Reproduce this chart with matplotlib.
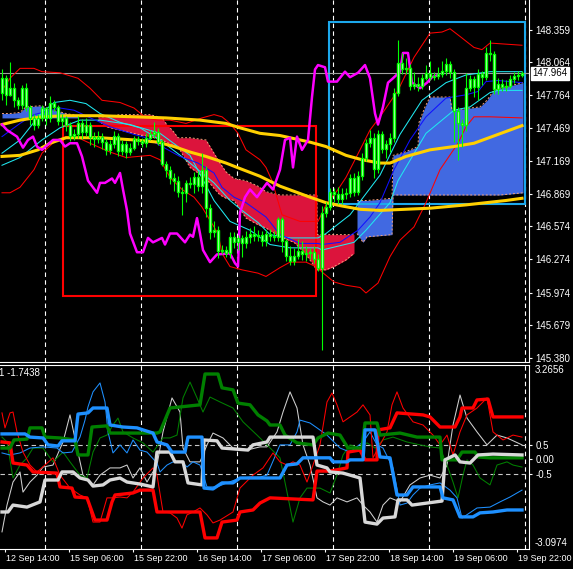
import numpy as np
import matplotlib
matplotlib.use("Agg")
import matplotlib.pyplot as plt
from matplotlib.patches import Rectangle
from matplotlib.transforms import ScaledTranslation, blended_transform_factory

plt.rcParams['font.family'] = ['Liberation Sans', 'DejaVu Sans']

# ---- candles (hourly bars, index 0..130) ----
first_open = 147.79
closes = [147.92, 147.77, 147.83, 147.72, 147.68, 147.83, 147.66, 147.56, 147.50, 147.56,
          147.65, 147.56, 147.70, 147.66, 147.53, 147.56, 147.50, 147.40, 147.41, 147.51,
          147.43, 147.50, 147.39, 147.37, 147.39, 147.34, 147.27, 147.32, 147.40, 147.26,
          147.32, 147.25, 147.29, 147.37, 147.35, 147.33, 147.38, 147.41, 147.43, 147.34,
          147.14, 147.09, 147.01, 146.99, 146.89, 146.88, 146.97, 146.96, 147.02, 146.94,
          147.09, 146.74, 146.52, 146.54, 146.35, 146.36, 146.33, 146.48, 146.43, 146.47,
          146.42, 146.48, 146.51, 146.49, 146.50, 146.44, 146.51, 146.49, 146.48, 146.64,
          146.44, 146.31, 146.26, 146.31, 146.35, 146.32, 146.33, 146.34, 146.28, 146.20,
          146.70, 146.75, 146.89, 146.87, 146.82, 146.87, 146.88, 147.01, 146.89, 147.03,
          147.20, 147.33, 147.38, 147.10, 147.41, 147.28, 147.32, 147.38, 147.79, 148.06,
          148.00, 148.01, 147.85, 147.87, 147.85, 147.92, 147.97, 147.93, 147.94, 147.96,
          147.99, 148.05, 147.98, 147.62, 147.51, 147.50, 147.83, 147.91, 147.84, 147.96,
          147.93, 148.15, 148.14, 147.82, 147.87, 147.84, 147.85, 147.91, 147.94, 147.95,
          147.964]
highs = [148.00, 147.95, 148.07, 147.88, 147.75, 147.86, 147.88, 147.68, 147.60, 147.60,
         147.68, 147.66, 147.76, 147.72, 147.68, 147.60, 147.58, 147.52, 147.46, 147.58,
         147.55, 147.56, 147.52, 147.43, 147.44, 147.42, 147.37, 147.36, 147.44, 147.42,
         147.36, 147.35, 147.33, 147.40, 147.40, 147.38, 147.42, 147.45, 147.52, 147.47,
         147.37, 147.17, 147.12, 147.06, 147.03, 146.93, 147.00, 147.02, 147.07, 147.08,
         147.24, 147.12, 146.78, 146.62, 146.58, 146.41, 146.40, 146.52, 146.52, 146.50,
         146.50, 146.53, 146.56, 146.58, 146.54, 146.53, 146.54, 146.55, 146.53, 146.66,
         146.66, 146.46, 146.40, 146.38, 146.46, 146.44, 146.40, 146.38, 146.40, 146.32,
         146.76, 146.80, 146.92, 146.92, 146.93, 146.92, 146.92, 147.05, 147.06, 147.08,
         147.24, 147.37, 147.45, 147.42, 147.45, 147.44, 147.36, 147.42, 147.83, 148.27,
         148.15, 148.10, 148.05, 147.98, 147.93, 147.96, 148.04, 148.08, 147.98, 148.02,
         148.08, 148.10, 148.08, 148.00, 147.66, 147.55, 147.97, 147.95, 147.94, 148.00,
         147.99, 148.20, 148.27, 148.17, 147.92, 147.91, 147.90, 147.95, 147.98, 147.99,
         147.99]
lows = [147.72, 147.68, 147.76, 147.66, 147.64, 147.64, 147.62, 147.50, 147.45, 147.47,
        147.53, 147.50, 147.52, 147.62, 147.50, 147.48, 147.44, 147.35, 147.36, 147.38,
        147.37, 147.40, 147.31, 147.30, 147.33, 147.28, 147.22, 147.23, 147.29, 147.21,
        147.22, 147.20, 147.22, 147.27, 147.31, 147.30, 147.30, 147.36, 147.38, 147.31,
        147.12, 147.02, 146.96, 146.90, 146.84, 146.68, 146.80, 146.92, 146.88, 146.90,
        146.88, 146.66, 146.46, 146.48, 146.29, 146.32, 146.30, 146.29, 146.38, 146.36,
        146.30, 146.38, 146.42, 146.44, 146.44, 146.40, 146.40, 146.44, 146.44, 146.44,
        146.34, 146.26, 146.22, 146.22, 146.28, 146.27, 146.26, 146.28, 146.24, 146.17,
        145.45, 146.66, 146.72, 146.80, 146.78, 146.78, 146.82, 146.84, 146.85, 146.86,
        147.00, 147.17, 147.30, 147.01, 147.06, 147.24, 147.20, 147.25, 147.34, 147.76,
        147.96, 147.96, 147.81, 147.82, 147.80, 147.82, 147.90, 147.90, 147.90, 147.91,
        147.93, 147.95, 147.92, 147.34, 147.18, 147.30, 147.44, 147.80, 147.75, 147.72,
        147.86, 147.90, 148.08, 147.78, 147.78, 147.80, 147.80, 147.83, 147.88, 147.90,
        147.93]
last_price = 147.964

# ---- overlay lines on price panel (bar index, price) ----
bb_up_x = [0, 2, 4.5, 8, 10, 14.5, 19, 22, 25, 29.5, 33, 36, 39, 42, 46, 50, 53, 55, 57, 59, 61, 64.5,
           66, 67.5, 70, 74.5, 79, 81, 84, 86, 89.5, 92, 94.5, 99, 103, 107, 110, 112, 114.5, 118,
           120, 122, 130]
bb_up = [147.81, 147.92, 148.01, 148.01, 147.98, 147.97, 147.92, 147.83, 147.72, 147.70,
         147.65, 147.56, 147.54, 147.54, 147.51, 147.56, 147.59, 147.57, 147.51, 147.42,
         147.27, 147.18, 147.11, 146.99, 146.68, 146.62, 146.62, 146.77, 146.91, 147.02,
         147.27, 147.45, 147.57, 147.81, 148.11, 148.33, 148.34, 148.37, 148.30, 148.20,
         148.18, 148.24, 148.22]
bb_lo_x = [0, 2, 4.5, 8, 10, 13, 16, 19, 22, 27, 31, 37, 39.5, 42, 45, 48, 50, 54, 55, 57, 60, 64,
           66, 69.5, 72, 76, 79, 80, 83, 86, 89.5, 91, 94, 97, 99.5, 103, 106, 109.5, 114, 116,
           118, 122, 130]
bb_lo = [146.88, 146.88, 146.93, 147.09, 147.24, 147.34, 147.39, 147.38, 147.33, 147.25,
         147.20, 147.22, 147.18, 147.02, 146.91, 146.84, 146.75, 146.51, 146.33, 146.21,
         146.18, 146.15, 146.12, 146.20, 146.25, 146.25, 146.20, 146.16, 146.07, 146.04,
         146.02, 145.97, 146.06, 146.30, 146.45, 146.57, 146.79, 147.09, 147.33, 147.48,
         147.57, 147.57, 147.56]
cyan_a_x = [0, 4.5, 9.5, 13, 17, 21, 24.5, 29.5, 34.5, 39.5, 46, 53, 57, 60, 64, 67, 72, 79, 81,
            87, 94.5, 99.5, 105, 111, 116, 122, 130]
cyan_a = [147.24, 147.36, 147.59, 147.70, 147.72, 147.69, 147.60, 147.52, 147.47, 147.36,
          147.18, 146.97, 146.81, 146.72, 146.61, 146.50, 146.47, 146.47, 146.51, 146.68,
          147.04, 147.41, 147.72, 147.88, 147.95, 147.98, 147.98]
cyan_b_x = [0, 4.5, 10, 14.5, 19.5, 24.5, 32, 39.5, 47, 53, 57, 62, 67, 72, 79, 80, 88, 91, 97,
            99, 106, 113, 117, 122, 124, 130]
cyan_b = [147.13, 147.20, 147.36, 147.47, 147.54, 147.54, 147.50, 147.42, 147.22, 146.81,
          146.62, 146.54, 146.41, 146.38, 146.38, 146.36, 146.43, 146.54, 146.79, 146.99,
          147.42, 147.63, 147.66, 147.79, 147.81, 147.81]
blue_x = [0, 4.5, 8, 14.5, 18, 21.5, 27, 33, 36, 40, 44.5, 49, 53, 55, 58, 61, 66, 69.5, 74.5, 79,
          80, 84.5, 89, 92, 94.5, 98, 102, 106, 111, 116, 119, 121, 124, 130]
blue = [147.39, 147.51, 147.59, 147.65, 147.63, 147.57, 147.48, 147.41, 147.38, 147.30,
        147.21, 147.15, 147.06, 146.93, 146.84, 146.79, 146.66, 146.50, 146.42, 146.42,
        146.41, 146.43, 146.54, 146.66, 146.79, 147.09, 147.36, 147.57, 147.74, 147.77,
        147.80, 147.89, 147.90, 147.88]
ma_a_x = [0, 4.5, 10, 16, 24.5, 33, 41, 49.5, 56, 59.5, 64.5, 69.5, 77, 81, 86, 90, 94.5, 97, 101,
          107, 113, 118, 124, 130]
ma_a = [147.50, 147.54, 147.57, 147.58, 147.58, 147.57, 147.56, 147.54, 147.51, 147.47,
        147.42, 147.40, 147.34, 147.30, 147.22, 147.18, 147.15, 147.15, 147.21, 147.27,
        147.30, 147.33, 147.41, 147.49]
ma_b_x = [0, 4.5, 9, 12, 16, 24.5, 33, 39, 43, 47, 51, 56, 59.5, 64.5, 69.5, 77, 81, 85, 89.5,
          94.5, 107, 116, 121, 126, 130]
ma_b = [147.21, 147.22, 147.27, 147.33, 147.38, 147.38, 147.36, 147.34, 147.30, 147.25,
        147.21, 147.15, 147.10, 147.03, 146.94, 146.84, 146.79, 146.76, 146.73, 146.72,
        146.74, 146.77, 146.79, 146.81, 146.83]
mag_x = [0, 1.25, 3.75, 5.25, 6.5, 7.75, 8.75, 10, 11.25, 12.75, 14.5, 15.75, 17, 18.75, 20, 21.5,
         23.75, 24.5, 25.75, 27.5, 28.25, 29.5, 30.25, 31.25, 32, 33.75, 35.25, 36.5, 37.75, 40,
         40.75, 42, 43.75, 45.75, 47, 47.75, 48.75, 49.5, 50.25, 52, 53.75, 57, 58.25, 59, 59.5,
         60.75, 62, 63.75, 65.25, 66.25, 67.75, 69.5, 70.75, 72, 72.75, 73.75, 75, 76.5, 77.5,
         78.25, 79, 80.75, 81.5, 83.75, 85.75, 87, 89, 90.75, 92, 93.25, 94, 95.25, 96.5, 97.75,
         99.5, 100.25, 101.5, 102.5, 104.5, 106.25, 107.5, 109]
mag = [147.50, 147.45, 147.39, 147.29, 147.36, 147.39, 147.30, 147.27, 147.31, 147.36,
       147.36, 147.30, 147.33, 147.33, 147.21, 146.99, 146.88, 146.97, 146.97, 147.01,
       146.97, 147.06, 146.91, 146.72, 146.51, 146.34, 146.34, 146.47, 146.43, 146.47,
       146.41, 146.51, 146.51, 146.43, 146.50, 146.48, 146.65, 146.51, 146.36, 146.25,
       146.32, 146.33, 146.24, 146.21, 146.70, 146.84, 146.91, 146.84, 146.92, 146.97,
       146.91, 147.09, 147.36, 147.38, 147.11, 147.39, 147.27, 147.36, 147.75, 148.00,
       148.04, 148.02, 147.89, 147.89, 147.98, 147.93, 147.97, 148.04, 147.92, 147.60,
       147.50, 147.66, 147.88, 147.92, 147.98, 148.15, 148.15, 147.88, 147.83, 147.88,
       147.93, 147.95]

# clouds
red_x = [24, 26, 29.5, 34, 37, 40, 41, 43, 44, 47, 51, 53, 54.5, 56, 58, 61, 64, 66, 69.5, 73,
         76, 78.7, 78.8, 81, 83, 86, 88]
red_top = [147.57, 147.57, 147.59, 147.59, 147.59, 147.56, 147.51, 147.43, 147.38, 147.38,
           147.36, 147.24, 147.15, 147.07, 147.01, 146.99, 146.94, 146.89, 146.86, 146.86,
           146.86, 146.86, 146.50, 146.50, 146.50, 146.50, 146.50]
red_bot = [147.54, 147.48, 147.45, 147.41, 147.39, 147.36, 147.34, 147.31, 147.30, 147.11,
           147.01, 146.92, 146.86, 146.83, 146.81, 146.65, 146.59, 146.56, 146.48, 146.43,
           146.32, 146.18, 146.18, 146.18, 146.21, 146.27, 146.33]
bl_left_x = [0, 2, 4.5, 6, 9.5, 13, 16, 19]
bl_left_top = [147.60, 147.60, 147.61, 147.66, 147.67, 147.63, 147.60, 147.58]
bl_left_bot = [147.56, 147.56, 147.56, 147.56, 147.56, 147.56, 147.56, 147.56]
bl_x = [88.75, 90.25, 91.25, 97.5, 97.75, 100.75, 104, 104.25, 105.75, 107, 112, 112.5, 119.5,
        121.25, 122.75, 124.5, 130.25]
bl_top = [146.81, 146.81, 146.81, 146.83, 147.22, 147.25, 147.30, 147.52, 147.66, 147.75,
          147.75, 147.63, 147.66, 147.72, 147.80, 147.83, 147.88]
bl_bot = [146.51, 146.43, 146.48, 146.50, 146.86, 146.86, 146.86, 146.86, 146.86, 146.86,
          146.86, 146.86, 146.86, 146.86, 146.86, 146.86, 146.88]

# drawn rectangles: (x0, x1, price low, price high)
red_box = (15.25, 78.5, 145.94, 147.49)
cyan_box = (81.75, 130.75, 146.78, 148.43)

price_ticks = [148.359, 148.064, 147.764, 147.469, 147.169, 146.869, 146.574, 146.274,
               145.974, 145.679, 145.380]
day_lines = [10.75, 34.75, 58.75, 82.75, 106.75, 130.75]
time_ticks = [0.75, 16.75, 32.75, 48.75, 64.75, 80.75, 96.75, 112.75, 128.75]
time_labels = ['12 Sep 14:00', '15 Sep 06:00', '15 Sep 22:00', '16 Sep 14:00', '17 Sep 06:00',
               '17 Sep 22:00', '18 Sep 14:00', '19 Sep 06:00', '19 Sep 22:00']

# ---- oscillator panel ----
osc_max, osc_min = 3.2656, -3.0974
thick_blue_x = [0, 5.75, 7, 10.25, 11.5, 14, 15, 18.25, 19, 21.5, 22.75, 26.25, 27, 30.25, 33.75,
                35.25, 37.75, 38.75, 41.25, 42.5, 45.75, 46.5, 50, 50.5, 52.75, 55, 57.75, 59.5,
                69.5, 71.25, 73.75, 75.25, 82, 82.75, 86.25, 87, 90.25, 90.75, 93.25, 94.5, 97,
                98.75, 101.25, 102.75, 109.5, 110.25, 112.75, 114.5, 117.75, 119.5, 122.75,
                126.25, 130]
thick_blue = [0.88, 0.88, 0.77, 0.74, 0.50, 0.46, 0.64, 0.64, 1.57, 1.61, 1.78, 1.78, 1.19,
              1.12, 1.09, 1.02, 0.91, 0.60, 0.50, 0.25, 0.25, 0.77, 0.77, -1.00, -1.03, -0.82,
              -0.82, -0.65, -0.65, -0.20, -0.16, 0.05, 0.05, -0.09, -0.09, -0.02, -0.02, 1.02,
              1.02, 0.08, 0.05, -1.24, -1.24, -0.96, -0.96, -1.34, -1.41, -2.00, -2.00, -1.86,
              -1.83, -1.76, -1.76]
thick_green_x = [0, 2, 3, 6.25, 7, 10, 10.75, 14.5, 18.25, 19, 21.5, 22.5, 26.25, 27, 38.75,
                 39.5, 42, 49.5, 50.75, 54, 55, 57.75, 59, 62, 64, 66.25, 67, 69.5, 70.75, 73.75,
                 77.75, 79, 81.5, 84.5, 86.5, 90, 90.75, 93.75, 94.5, 99.5, 103.75, 109.5, 110,
                 113.75, 115, 118.25, 119, 122, 130]
thick_green = [0.39, 0.39, 0.67, 0.70, 1.09, 1.09, 0.77, 0.74, 0.67, 0.15, 0.15, 1.12, 1.16,
               0.91, 0.91, 0.95, 1.78, 1.89, 2.96, 2.96, 2.48, 2.41, 1.95, 1.89, 1.54, 1.33,
               1.19, 1.19, 0.84, 0.57, 0.50, 0.74, 0.91, 0.84, 0.39, 0.39, 1.26, 1.26, 0.84,
               0.91, 0.77, 0.77, -0.02, -0.02, 0.25, 0.25, 0.08, 0.05, 0.05]
thick_red_x = [0, 2, 2.75, 6.25, 7.75, 13.75, 14.5, 17.5, 18.25, 21.25, 23.25, 26.25, 27.5,
               28.25, 32.75, 34.5, 37.75, 38.75, 49.5, 50.75, 53.75, 55, 58.75, 59.5, 62.75,
               64.5, 67, 77.75, 78.75, 82, 86.25, 86.5, 89.5, 90.75, 93.75, 94, 97, 98.75,
               105.25, 107, 109.5, 113.25, 114.5, 115, 117.75, 118.75, 121.5, 122.75, 130]
thick_red = [0.60, 0.57, -0.13, -0.20, -0.44, -0.48, -0.96, -1.00, -1.31, -1.34, -2.11, -2.11,
             -1.48, -1.24, -1.17, -1.07, -1.07, -1.83, -1.83, -2.73, -2.73, -2.18, -2.11, -1.83,
             -1.76, -1.52, -1.34, -1.41, -0.41, -0.41, -0.30, 0.25, 0.32, -0.02, -0.02, 1.02,
             1.09, 1.61, 1.54, 1.47, 1.12, 1.12, 1.47, 1.78, 1.78, 2.06, 2.09, 1.47, 1.47]
thick_white_x = [0, 1.5, 2.75, 6.25, 9.5, 10.75, 14, 15, 17.75, 19.5, 21.5, 22.75, 25.25, 27,
                 29.5, 31.25, 34.5, 37.75, 38.75, 42, 43.25, 45.25, 46.5, 50, 50.5, 53.75, 55,
                 61.5, 62.75, 66.25, 67, 77.75, 78.75, 81.25, 82, 85.25, 89.5, 90.75, 93.75,
                 95.25, 98.25, 99, 101.25, 102.5, 110, 110.75, 113.25, 114.5, 117, 119, 122.75,
                 130]
thick_white = [-1.83, -1.83, -1.59, -1.66, -1.48, -0.72, -0.72, -0.44, -0.44, -0.65, -0.72,
               -0.93, -0.89, -0.72, -0.65, -0.79, -0.86, -0.96, 0.25, 0.25, -0.09, -0.09, -0.82,
               -0.89, 0.67, 0.64, 0.39, 0.32, 0.50, 0.60, 0.77, 0.77, -0.20, -0.30, -0.44,
               -0.48, -0.65, -2.18, -2.25, -2.04, -2.00, -1.41, -1.41, -1.59, -1.45, -0.02,
               0.15, -0.09, -0.13, 0.15, 0.18, 0.15]
thin_blue_x = [0, 2, 4.5, 7, 10.25, 13.75, 15.25, 17.5, 19.5, 20.75, 21.5, 22.75, 24.5, 25.75,
               26.5, 27.75, 29.5, 31.25, 32.75, 34.5, 36.25, 38.75, 39.5, 41.25, 42.75, 45,
               46.25, 47.75, 49.5, 51.25, 53.75, 56.25, 59.5, 62, 64.5, 66.25, 69.5, 72, 73.75,
               74.5, 77, 78.75, 81.25, 84.5, 87, 90.25, 92, 93.75, 95.25, 97.75, 99.5, 101.25,
               102.75, 104.5, 107, 109.5, 112, 113.75, 115, 118.75, 122, 124.5, 127, 130]
thin_blue = [0.22, 0.15, 0.22, 0.39, 0.43, 0.39, 0.22, 0.25, 0.77, 1.36, 1.82, 2.34, 2.65, 1.99,
             0.95, 0.22, 0.50, 0.22, 0.67, 0.32, 0.25, -0.13, -0.44, -0.20, -0.09, -0.09, -0.27,
             -0.09, -0.20, -0.96, -0.96, -0.82, -0.65, -0.62, -0.62, -0.55, 0.50, 0.50, 0.95,
             1.36, 1.26, 1.09, 0.84, 0.39, 0.25, 0.60, 0.95, 0.50, 0.39, -0.30, -1.59, -1.52,
             -1.24, -1.00, -0.89, -0.82, -1.07, -1.34, -2.04, -1.69, -1.66, -1.48, -1.31, -1.07]
thin_green_x = [0, 1.25, 2.75, 4.5, 6.25, 7.75, 10.25, 12.75, 15.25, 17, 19.5, 21.25, 22.75,
                24.5, 26.25, 27.75, 29, 30.25, 32.75, 35.25, 37.75, 40.25, 42, 43.75, 45.25, 47,
                48.75, 50.25, 52, 54.5, 57.75, 60.25, 63.75, 66.25, 69.5, 71.25, 72.75, 74.5,
                76.25, 79.5, 82, 83.75, 85.25, 87, 89.5, 91.25, 93.25, 95.25, 97.75, 101.25,
                104.5, 107, 109.5, 111.25, 112.75, 114, 115.25, 116.25, 117.75, 119.5, 122,
                123.75, 126.25, 127.75, 130]
thin_green = [0.77, 0.60, -0.65, -0.20, 0.05, 0.39, 0.39, -0.09, 0.25, -0.09, -0.55, -0.65,
              0.25, 0.74, 0.84, 1.19, 1.43, 0.95, 0.74, 0.57, 0.25, 0.74, 0.74, 0.84, 2.13, 2.68,
              2.13, 1.64, 2.16, 1.99, 1.78, 1.30, 0.84, 0.50, 0.05, -1.14, -2.18, -1.34, -1.00,
              -1.00, -1.17, -0.55, 0.15, 0.50, 0.39, 0.57, 0.39, 0.67, 0.77, 0.60, 0.50, 0.43,
              0.39, -0.20, -0.79, -1.34, -0.55, -0.02, -0.20, -0.65, -0.89, -0.20, -0.09, -0.20,
              -0.27]
thin_red_x = [0, 0.75, 2, 2.75, 3.75, 5.25, 7, 8.75, 10.75, 12.75, 14.5, 17, 19.5, 21.25, 22.75,
              24.5, 26.25, 27.75, 29.5, 31.25, 32.75, 35.25, 37.75, 38.75, 40.25, 42, 43.75, 45,
              46.25, 47.75, 49.5, 51.25, 52.75, 54.5, 57.75, 59.5, 62.75, 65.25, 67.75, 69.5,
              71.25, 72.75, 74.5, 76.25, 77.75, 79.5, 81.25, 82.5, 83.75, 85.25, 87, 88.75,
              90.25, 92, 92.75, 94.5, 96.25, 97.5, 98.75, 100.25, 102.75, 105.25, 107.75, 109.5,
              111.25, 112.75, 114.5, 116.25, 118.75, 121.25, 122.75, 125.25, 127.75, 130]
thin_red = [1.61, 1.09, 1.61, 1.64, 0.95, 0.25, -0.20, -0.44, -0.20, 0.05, -0.55, -1.00, -1.24,
            -1.34, -2.18, -2.18, -1.34, -1.34, -1.31, -1.34, -1.14, -0.65, -0.30, -0.55, -1.83,
            -1.86, -2.04, -2.39, -1.93, -1.83, -1.69, -1.93, -2.21, -2.11, -1.83, -1.00, -0.55,
            -0.30, 0.22, -0.09, -0.20, -0.09, -0.20, -0.79, -0.20, 0.50, 1.99, 2.30, 1.89, 1.30,
            1.47, 1.64, 1.89, 1.54, 0.05, 0.50, 0.95, 1.89, 2.34, 1.78, 1.30, 1.19, 0.84, 0.50,
            0.84, 0.15, 0.95, 1.54, 1.78, 2.13, 0.95, 0.67, 0.84, 0.77]
thin_white_x = [0, 1.25, 2.75, 4.5, 5.25, 7, 8.75, 10.25, 12.75, 15.25, 17, 18.75, 20.25, 22.75,
                24.5, 27, 29.5, 31.25, 32.75, 34.5, 36.25, 38.75, 40.25, 42.5, 44.5, 45.25, 47,
                49.5, 51.25, 52.75, 55.25, 57.75, 61.25, 64.5, 66.25, 68.75, 70.25, 72, 73.75,
                75.25, 77, 78.75, 80.25, 82, 83.75, 86.25, 88.75, 90.25, 92, 93.75, 95.25, 97,
                99.5, 102, 104.5, 107, 109.5, 111.25, 112.75, 114.5, 116.25, 118.75, 121.25,
                123.75, 126.25, 130]
thin_white = [-2.52, -1.59, -0.79, -0.44, -1.14, -0.79, -0.55, -0.27, -0.20, 0.60, 1.54, 0.39,
              -0.55, -0.89, -0.55, -0.30, -0.30, -0.20, -0.65, -0.30, -0.79, -0.20, 0.95, 2.13,
              1.64, 0.39, -0.09, -0.09, 0.50, 0.91, 0.74, 0.39, 0.32, 0.43, 0.43, 0.95, 1.64,
              2.34, 1.78, 0.50, -0.20, -1.34, -1.48, -1.59, -1.34, -1.48, -1.34, -1.59, -1.83,
              -2.18, -1.59, -1.34, -1.48, -0.89, -0.65, -0.55, -0.65, -0.20, 1.19, 2.23, 1.43,
              0.95, 0.50, 0.84, 0.74, 0.50]

# ---- figure layout (pixel based, 573 x 569) ----
W, H = 573, 569
fig = plt.figure(figsize=(W / 100, H / 100), dpi=100, facecolor='black')
ax = fig.add_axes([0, (H - 362) / H, 529 / W, 362 / H])
ax2 = fig.add_axes([0, (H - 548.5) / H, 529 / W, 183.3 / H])

for a in (ax, ax2):
    a.set_facecolor('black')
    a.set_xlim(-0.5, 131.75)
    a.spines['left'].set_visible(False)
    for s in ('right', 'bottom', 'top'):
        a.spines[s].set_color('white')
        a.spines[s].set_linewidth(0.8)
    for d in day_lines:
        a.axvline(d, color='white', lw=0.8, ls=(0, (4, 3)), zorder=0.5)
ax.spines['top'].set_visible(False)
ax.set_ylim(145.343, 148.631)
ax2.set_ylim(osc_min, osc_max)

WHITE = 'white'
FS = 7

# clouds
ax.fill_between(bl_left_x, bl_left_bot, bl_left_top, color='#4169e1', lw=0, zorder=1)
ax.fill_between(red_x, red_bot, red_top, color='#dc143c', lw=0, zorder=1)
ax.fill_between(bl_x, bl_bot, bl_top, color='#4169e1', lw=0, zorder=1)
for xs, ys in ((red_x, red_top), (red_x, red_bot), (bl_x, bl_top), (bl_x, bl_bot),
               (bl_left_x, bl_left_top)):
    ax.plot(xs, ys, color='#f4a07a', lw=0.7, ls=(0, (2, 2)), zorder=1.2)

# rectangles
for (x0, x1, y0, y1), c in ((red_box, '#ff0000'), (cyan_box, '#1ca8ec')):
    ax.add_patch(Rectangle((x0, y0), x1 - x0, y1 - y0, fill=False, edgecolor=c, lw=1.5, zorder=2))

# indicator lines
ax.plot(bb_up_x, bb_up, color='#ff0000', lw=0.75, zorder=3)
ax.plot(bb_lo_x, bb_lo, color='#ff0000', lw=0.75, zorder=3)
ax.plot(cyan_a_x, cyan_a, color='#20e8f0', lw=0.75, zorder=3)
ax.plot(cyan_b_x, cyan_b, color='#20e8f0', lw=0.75, zorder=3)
ax.plot(blue_x, blue, color='#1010ff', lw=0.75, zorder=3)
ax.plot(ma_a_x, ma_a, color='#ffd000', lw=2.2, zorder=3.5)
ax.plot(ma_b_x, ma_b, color='#ffd000', lw=2.2, zorder=3.5)
ax.plot(mag_x, mag, color='#ff00ff', lw=1.8, zorder=4)
ax.axhline(last_price, color='#a0a0a0', lw=0.8, zorder=2.5)

# candles
closes_a = np.array(closes)
opens_a = np.r_[first_open, closes_a[:-1]]
idx = np.arange(len(closes_a))
ax.vlines(idx, lows, highs, color='#00ff00', lw=0.8, zorder=6)
ax.bar(idx, np.abs(closes_a - opens_a), bottom=np.minimum(opens_a, closes_a), width=0.5,
       color='#f0fff0', edgecolor='#00ff00', linewidth=1.0, zorder=7)

# price scale
ax.yaxis.tick_right()
ax.set_xticks([])
ax.set_yticks(price_ticks)
ax.set_yticklabels([f'{p:.3f}' for p in price_ticks])
ax.tick_params(axis='y', colors=WHITE, labelsize=FS, length=2.5, width=0.8, pad=2)
tr = blended_transform_factory(ax.transAxes, ax.transData)
ax.text(1.006, last_price, f'{last_price:.3f}', transform=tr, ha='left', va='center',
        fontsize=FS, color='black', clip_on=False, zorder=10,
        bbox=dict(facecolor='white', edgecolor='white', pad=1.2))

# oscillator
for lvl in (0.5, -0.5):
    ax2.axhline(lvl, color='#c8c8c8', lw=0.8, ls=(0, (4, 3)), zorder=0.5)
ax2.plot(thin_white_x, thin_white, color='#d0d0d0', lw=0.75, zorder=2)
ax2.plot(thin_green_x, thin_green, color='#008000', lw=0.75, zorder=2)
ax2.plot(thin_blue_x, thin_blue, color='#1e90ff', lw=0.75, zorder=2)
ax2.plot(thin_red_x, thin_red, color='#ff0000', lw=0.75, zorder=2)
ax2.plot(thick_red_x, thick_red, color='#ff0000', lw=2.4, zorder=3)
ax2.plot(thick_green_x, thick_green, color='#008000', lw=2.4, zorder=3)
ax2.plot(thick_white_x, thick_white, color='#d8d8d8', lw=2.4, zorder=3)
ax2.plot(thick_blue_x, thick_blue, color='#1e90ff', lw=2.4, zorder=3)

ax2.yaxis.tick_right()
ax2.set_yticks([0.5, 0.0, -0.5])
ax2.set_yticklabels(['0.5', '0.00', '-0.5'])
ax2.tick_params(axis='y', colors=WHITE, labelsize=FS, length=2.5, width=0.8, pad=2)
tr2 = blended_transform_factory(ax2.transAxes, ax2.transData)
ax2.text(1.011, osc_max, f'{osc_max:.4f}', transform=tr2, ha='left', va='top',
         fontsize=FS, color=WHITE, clip_on=False)
ax2.text(1.011, osc_min, f'{osc_min:.4f}', transform=tr2, ha='left', va='bottom',
         fontsize=FS, color=WHITE, clip_on=False)
ax2.text(-0.002, 0.955, '1 -1.7438', transform=ax2.transAxes, ha='left', va='center',
         fontsize=FS, color=WHITE)

ax2.set_xticks(time_ticks)
ax2.set_xticklabels(time_labels)
ax2.tick_params(axis='x', colors=WHITE, labelsize=6.5, length=2.5, width=0.8, pad=1.5)
shift = ScaledTranslation(1.5 / 100, 0, fig.dpi_scale_trans)
for lbl in ax2.get_xticklabels():
    lbl.set_horizontalalignment('left')
    lbl.set_transform(lbl.get_transform() + shift)

fig.savefig('out.png', dpi=100, facecolor='black')
